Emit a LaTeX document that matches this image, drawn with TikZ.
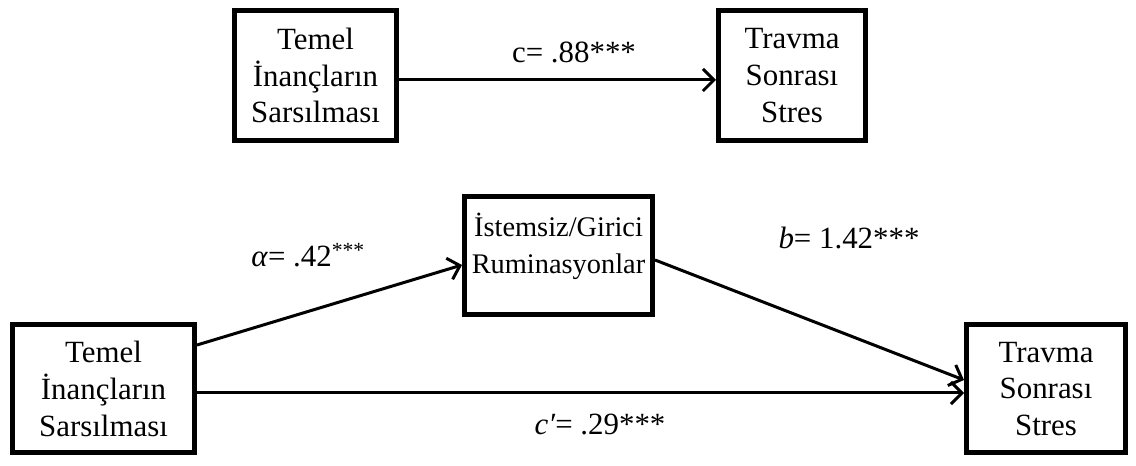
\documentclass[tikz,border=0pt]{standalone}
\usepackage{fontspec}
\setmainfont{Liberation Serif}
\usepackage{tikz}
\usetikzlibrary{arrows.meta, positioning, calc}

\begin{document}
\begin{tikzpicture}[x=1bp,y=1bp,
    >={Straight Barb[length=11bp,width=22bp,line width=3bp]},
    varbox/.style={draw,line width=5bp,inner sep=0pt,align=center,
      font=\fontsize{31}{37}\selectfont},
    path/.style={->,line width=3bp},
    coef/.style={font=\fontsize{31}{37}\selectfont}]
  \useasboundingbox (0,0) rectangle (1136,466);
%%
  % Node: top model
  \node[varbox,minimum width=162bp,minimum height=130bp] (tbi) at (315.5,390.5)
    {Temel\\İnançların\\Sarsılması};
  \node[varbox,minimum width=147bp,minimum height=130bp] (tss) at (792,390.5)
    {Travma\\Sonrası\\Stres};
  % Node: mediation model
  \node[varbox,minimum width=188bp,minimum height=118bp,
        font=\fontsize{28.5}{37}\selectfont] (rum) at (558.5,210.5)
    {İstemsiz/Girici\\Ruminasyonlar\\[-12bp]};
  \node[varbox,minimum width=182bp,minimum height=128bp] (tbi2) at (103.5,77)
    {Temel\\İnançların\\Sarsılması};
  \node[varbox,minimum width=159bp,minimum height=128bp] (tss2) at (1046,77)
    {Travma\\Sonrası\\Stres};
%
  % Edge: tbi -- tss
  \draw[path] ([yshift=-4.5bp]tbi.east) -- ([yshift=-4.5bp]tss.west);
  % Edge: tbi2 -- rum
  \draw[path] ([yshift=44bp]tbi2.east) -- ([yshift=-9.5bp]rum.west);
  % Edge: rum -- tss2
  \draw[path] ([yshift=-4.5bp]rum.east) -- ([yshift=9bp]tss2.west);
  % Edge: tbi2 -- tss2
  \draw[path] ([yshift=-4bp]tbi2.east) -- ([yshift=-4bp]tss2.west);
%
  % Labels
  \node[coef] (c) at (574,414) {c= .88***};
  \node[coef] (a) at (308,211) {\textit{α}= .42\textsuperscript{***}};
  \node[coef] (b) at (849,228) {\textit{b}= 1.42***};
  \node[coef] (cp) at (600,41) {\textit{c′}= .29***};
%
\end{tikzpicture}
\end{document}
